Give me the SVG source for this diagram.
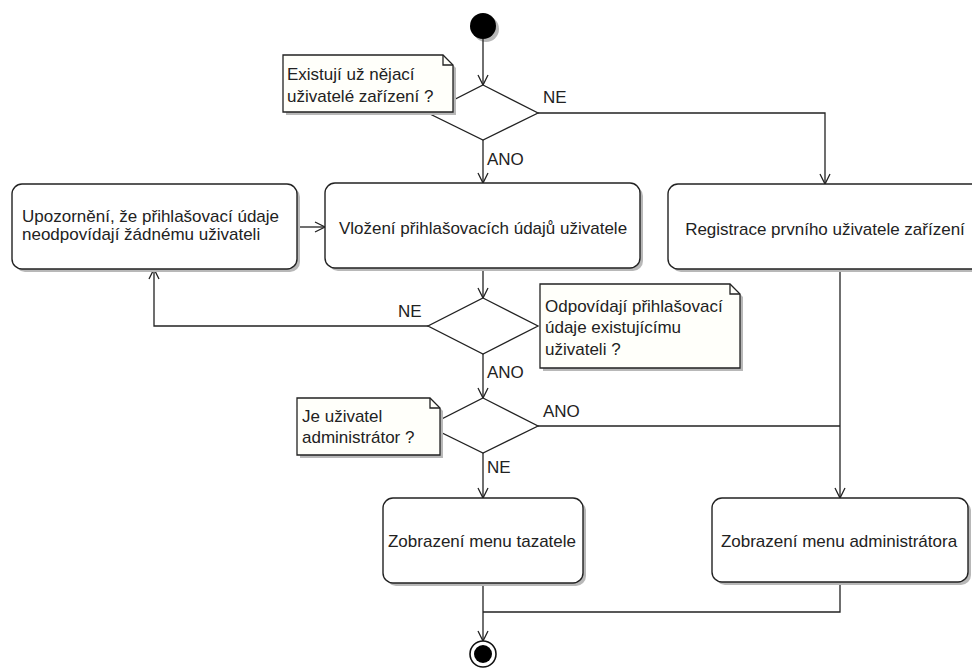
<svg xmlns="http://www.w3.org/2000/svg" width="972" height="668" viewBox="0 0 972 668">
<defs>
<marker id="arr" markerUnits="userSpaceOnUse" markerWidth="14" markerHeight="14" viewBox="-12 -7 14 14" refX="0" refY="0" orient="auto">
<path d="M-10,-5 L0,0 L-10,5" fill="none" stroke="#222" stroke-width="1.3"/>
</marker>
</defs>
<style>
text{font-family:"Liberation Sans",Arial,sans-serif;font-size:17px;fill:#222}
.box{fill:#fff;stroke:#222;stroke-width:1.4}
.sh{fill:#b8b8b8}
.dia{fill:#fff;stroke:#222;stroke-width:1.3}
.note{fill:#fffffa;stroke:#222;stroke-width:1.3}
.ln{fill:none;stroke:#222;stroke-width:1.3}
.mid{text-anchor:middle}
</style>
<rect width="972" height="668" fill="#fff"/>

<g id="start">
<circle cx="486" cy="29" r="13" class="sh"/>
<circle cx="483" cy="26" r="13" fill="#000"/>
</g>

<g id="connectors">
<path class="ln" d="M483,39 L483,85" marker-end="url(#arr)"/>
<path class="ln" d="M538,113 L825,113 L825,184" marker-end="url(#arr)"/>
<path class="ln" d="M483,140 L483,183" marker-end="url(#arr)"/>
<path class="ln" d="M297,227 L325,227" marker-end="url(#arr)"/>
<path class="ln" d="M483,268 L483,298" marker-end="url(#arr)"/>
<path class="ln" d="M428,326 L154,326 L154,269" marker-end="url(#arr)"/>
<path class="ln" d="M483,354 L483,398" marker-end="url(#arr)"/>
<path class="ln" d="M538,426 L840,426"/>
<path class="ln" d="M840,269 L840,498" marker-end="url(#arr)"/>
<path class="ln" d="M483,453 L483,498" marker-end="url(#arr)"/>
<path class="ln" d="M483,583 L483,641" marker-end="url(#arr)"/>
<path class="ln" d="M840,582 L840,612 L483,612"/>
<text x="543" y="103">NE</text>
<text x="487" y="165">ANO</text>
<text x="398" y="317">NE</text>
<text x="487" y="378">ANO</text>
<text x="543" y="417">ANO</text>
<text x="487" y="473">NE</text>
</g>

<g id="decision1">
<polygon class="dia" points="483,85 538,113 483,140 428,113"/>
</g>
<g id="note1">
<path class="sh" d="M286,58 L446,58 L456,68 L456,115 L286,115 Z"/>
<path class="note" d="M283,55 L443,55 L453,65 L453,112 L283,112 Z"/>
<path class="ln" d="M443,55 L443,65 L453,65"/>
<text x="287" y="80">Existují už nějací</text>
<text x="287" y="102">uživatelé zařízení ?</text>
</g>

<g id="warn">
<rect class="sh" x="15" y="187" width="285" height="85" rx="10"/>
<rect class="box" x="12" y="184" width="285" height="85" rx="10"/>
<text x="22" y="222">Upozornění, že přihlašovací údaje</text>
<text x="22" y="240">neodpovídají žádnému uživateli</text>
</g>

<g id="input">
<rect class="sh" x="328" y="186" width="315" height="85" rx="10"/>
<rect class="box" x="325" y="183" width="315" height="85" rx="10"/>
<text class="mid" x="483" y="234">Vložení přihlašovacích údajů uživatele</text>
</g>

<g id="register">
<rect class="sh" x="671" y="187" width="316" height="85" rx="10"/>
<rect class="box" x="668" y="184" width="316" height="85" rx="10"/>
<text class="mid" x="825" y="235">Registrace prvního uživatele zařízení</text>
</g>

<g id="decision2">
<polygon class="dia" points="483,298 538,326 483,354 428,326"/>
</g>
<g id="note2">
<path class="sh" d="M543,287 L733,287 L743,297 L743,371 L543,371 Z"/>
<path class="note" d="M540,284 L730,284 L740,294 L740,368 L540,368 Z"/>
<path class="ln" d="M730,284 L730,294 L740,294"/>
<text x="545" y="312">Odpovídají přihlašovací</text>
<text x="545" y="333">údaje existujícímu</text>
<text x="545" y="355">uživateli ?</text>
</g>

<g id="decision3">
<polygon class="dia" points="483,398 538,426 483,453 428,426"/>
</g>
<g id="note3">
<path class="sh" d="M300,401 L433,401 L443,411 L443,458 L300,458 Z"/>
<path class="note" d="M297,398 L430,398 L440,408 L440,455 L297,455 Z"/>
<path class="ln" d="M430,398 L430,408 L440,408"/>
<text x="302" y="422">Je uživatel</text>
<text x="302" y="443">administrátor ?</text>
</g>

<g id="menuUser">
<rect class="sh" x="386" y="501" width="200" height="85" rx="10"/>
<rect class="box" x="383" y="498" width="200" height="85" rx="10"/>
<text class="mid" x="482" y="547">Zobrazení menu tazatele</text>
</g>

<g id="menuAdmin">
<rect class="sh" x="715" y="501" width="256" height="84" rx="10"/>
<rect class="box" x="712" y="498" width="256" height="84" rx="10"/>
<text class="mid" x="839" y="547">Zobrazení menu administrátora</text>
</g>

<g id="end">
<circle cx="483" cy="654" r="13" fill="#fff" stroke="#111" stroke-width="1.6"/>
<circle cx="483" cy="654" r="9" fill="#000"/>
</g>
</svg>
